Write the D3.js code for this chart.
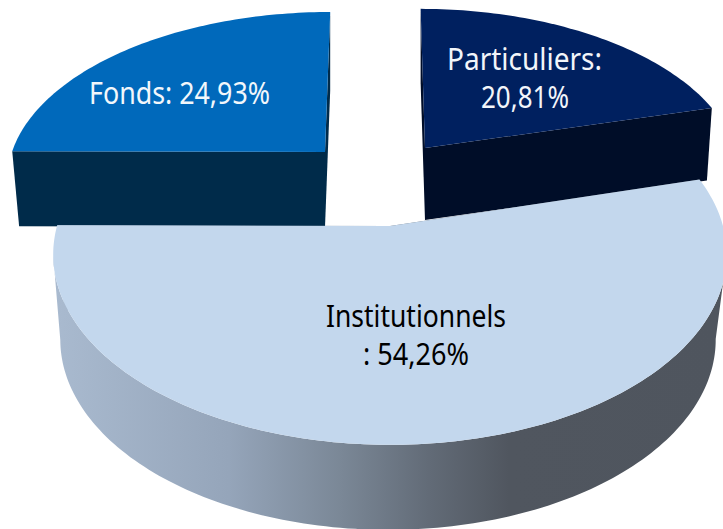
<!DOCTYPE html>
<html>
<head>
<meta charset="utf-8">
<script src="https://cdn.jsdelivr.net/npm/d3@7/dist/d3.min.js"></script>
<style>html,body{margin:0;padding:0;background:#fff;overflow:hidden}</style>
</head>
<body>
<script>
const categories = ["Particuliers", "Institutionnels", "Fonds"];
const shares = [20.81, 54.26, 24.93];

const W = 723, H = 529, PERSP = 0.15, STEPS = 160;
const pct = v => v.toFixed(2).replace(".", ",") + "%";

const sliceStyle = {
  Fonds:           {ax:325, ay:152, R:313, Q:161, lean:6,  depth:75, z:0.978, zq:0.978, dx:0,  top:"#0069bb", wall:"#002b4a", drawOrder:0},
  Particuliers:    {ax:425, ay:148, R:310, Q:160, lean:-5, depth:72, z:0.983, zq:0.983, dx:0,  top:"#00205f", wall:"#000d28", drawOrder:1},
  Institutionnels: {ax:390, ay:226, R:333, Q:186, lean:0,  depth:85, z:0.973, zq:1,     dx:-2, top:"#c3d7ed", wall:"url(#wallGrad)", drawOrder:2}
};

const labelStyle = {
  Fonds:           {fill:"#f2f7fb", lines:d=>[`${d.name}: ${pct(d.value)}`],
                    x:[89], w:[181], y:[104]},
  Particuliers:    {fill:"#f2f5fa", lines:d=>[`${d.name}:`, pct(d.value)],
                    x:[447,481], w:[155,88], y:[70,108]},
  Institutionnels: {fill:"#000000", lines:d=>[d.name, `: ${pct(d.value)}`],
                    x:[326,363], w:[180,106], y:[327,365]}
};

const svg = d3.select("body").append("svg")
  .attr("width", W).attr("height", H).style("display","block");

const grad = svg.append("defs").append("linearGradient")
  .attr("id","wallGrad").attr("gradientUnits","userSpaceOnUse")
  .attr("x1",55).attr("x2",723).attr("y1",0).attr("y2",0);
[[0,"#a9bacf"],[0.26,"#95a5ba"],[0.43,"#7a8796"],[0.56,"#626b77"],[0.68,"#50565f"],[1,"#4f555e"]]
  .forEach(([o,c]) => grad.append("stop").attr("offset",o).attr("stop-color",c));

const pie = d3.pie().sort(null).value(d => d.value).startAngle(0).endAngle(2*Math.PI);
const arcs = pie(categories.map((name,i) => ({name, value:shares[i]})));

function project(s, angle, radius, lower) {
  const zr = lower ? s.z : 1, zq = lower ? s.zq : 1;
  const u = Math.sin(angle)*radius, v = Math.cos(angle)*radius;
  const k = 1/(1 + PERSP*v);
  return [s.ax + (lower ? s.dx : 0) + (s.R*zr*u + s.lean*v)*k,
          s.ay + (lower ? s.depth : 0) - s.Q*zq*v*k];
}
const line = d3.line();

function rim(s, a, lower) {
  const n = Math.max(2, Math.round(STEPS*(a.endAngle-a.startAngle)/Math.PI));
  return d3.range(n+1).map(i => project(s, a.startAngle + (a.endAngle-a.startAngle)*i/n, 1, lower));
}

const ordered = arcs.slice().sort((p,q) => sliceStyle[p.data.name].drawOrder - sliceStyle[q.data.name].drawOrder);

ordered.forEach(a => {
  const s = sliceStyle[a.data.name];
  const g = svg.append("g");
  const apexT = project(s, 0, 0, false), apexB = project(s, 0, 0, true);
  const topRim = rim(s, a, false), lowRim = rim(s, a, true);

  // Curved outer wall, kept between the silhouette extremes of the rim
  const iR = d3.greatestIndex(topRim, p => p[0]), iL = d3.leastIndex(topRim, p => p[0]);
  const jR = d3.greatestIndex(lowRim, p => p[0]), jL = d3.leastIndex(lowRim, p => p[0]);
  if (jL > jR) {
    g.append("path").attr("fill", s.wall)
      .attr("d", line(topRim.slice(iR, iL+1).concat(lowRim.slice(jR, jL+1).reverse())) + "Z");
  }
  // Flat radial walls
  [[topRim[0], lowRim[0]], [topRim[topRim.length-1], lowRim[lowRim.length-1]]].forEach(([t,b]) => {
    g.append("path").attr("fill", s.wall)
      .attr("d", line([apexT, t, b, apexB]) + "Z");
  });
  // Top face
  g.append("path").attr("fill", s.top)
    .attr("d", line([apexT].concat(topRim)) + "Z");
});

arcs.forEach(a => {
  const l = labelStyle[a.data.name];
  l.lines(a.data).forEach((txt,i) => {
    svg.append("text").text(txt)
      .attr("x", l.x[i]).attr("y", l.y[i])
      .attr("textLength", l.w[i]).attr("lengthAdjust","spacingAndGlyphs")
      .attr("font-family","'Noto Sans', sans-serif")
      .attr("font-size",31)
      .style("font-variant-ligatures","none")
      .attr("fill", l.fill);
  });
});
</script>
</body>
</html>
